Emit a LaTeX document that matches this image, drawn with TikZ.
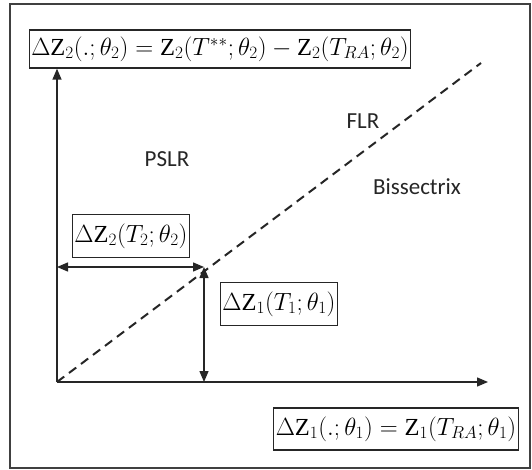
\documentclass[tikz,border=0pt]{standalone}
\usepackage{fontspec}
\setmainfont{Liberation Serif}
\setsansfont{Carlito}
\usetikzlibrary{arrows.meta, calc, positioning}
\tikzset{
  % riquadro con la formula
  eqbox/.style={draw=black!85, line width=1.3pt, inner sep=2pt, minimum height=38pt,
    fill=white, font=\fontsize{24.5}{28}\selectfont},
  % etichette delle regioni
  lbl/.style={font=\sffamily\fontsize{23}{26}\selectfont, text=black!85},
  % assi
  axis/.style={line width=1.4pt, black!85, -{Triangle[length=11pt, width=9pt]}},
  % freccia doppia
  dbl/.style={line width=1.4pt, black!85, {Triangle[length=11pt, width=9pt]}-{Triangle[length=11pt, width=9pt]}},
  % bisettrice
  bisec/.style={line width=2pt, black!85, dash pattern=on 9pt off 6pt},
}

\begin{document}
\begin{tikzpicture}[x=1pt, y=-1pt]
  \useasboundingbox (0,0) rectangle (532,470);
  \draw[line width=1.2pt, black!75] (10,4) rectangle (530,468);
  \coordinate (o) at (57,382);
  \coordinate (xend) at (488,382);
  \coordinate (bend) at (481,63);
  \coordinate (t) at (204,267);
  \node[eqbox] (eqtop) at (220,49) {$\Delta\mathrm{Z}_2(.;\theta_2)=\mathrm{Z}_2(T^{**};\theta_2)-\mathrm{Z}_2(T_{RA};\theta_2)$};
  \node[eqbox, minimum height=42pt] (eqbot) at (396,429) {$\Delta\mathrm{Z}_1(.;\theta_1)=\mathrm{Z}_1(T_{RA};\theta_1)$};
  \node[eqbox, minimum height=43pt] (eqh) at (131,236) {$\Delta\mathrm{Z}_2(T_2;\theta_2)$};
  \node[eqbox, minimum height=43pt] (eqv) at (279,304) {$\Delta\mathrm{Z}_1(T_1;\theta_1)$};
  \node[lbl] (pslr) at (167,159) {PSLR};
  \node[lbl] (flr) at (363,121) {FLR};
  \node[lbl] (bis) at (417,187) {Bissectrix};
  \draw[bisec] (o) -- (bend);
  \draw[axis] (o) -- (xend);
  \draw[axis] (o) -- (o |- eqtop.south);
  \draw[dbl] (o |- t) -- (t);
  \draw[dbl] (t) -- (t |- o);
\end{tikzpicture}
\end{document}
